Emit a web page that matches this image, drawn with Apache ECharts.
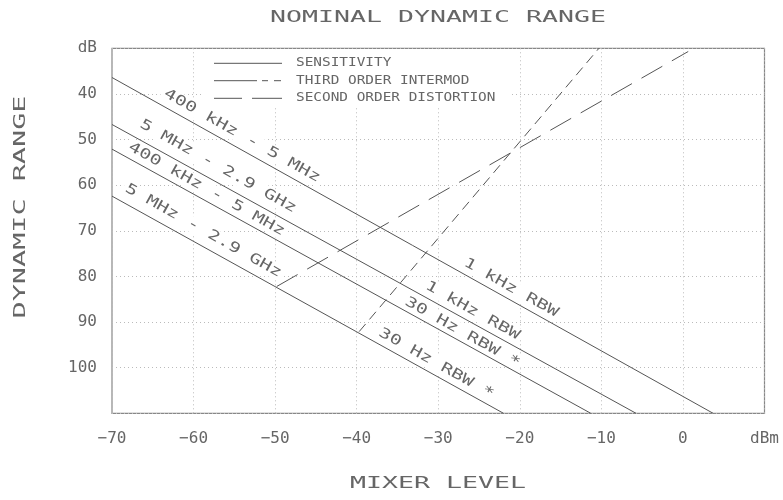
<!DOCTYPE html>
<html><head><meta charset="utf-8">
<script src="https://cdn.jsdelivr.net/npm/echarts@6/dist/echarts.min.js"></script>
<style>html,body{margin:0;padding:0;background:#fff}#c{width:783px;height:500px}</style>
</head><body><div id="c"></div>
<script>
// ---- data ----
const xTickValues = [-70, -60, -50, -40, -30, -20, -10, 0];
const xUnit = 'dBm';
const yTickValues = [40, 50, 60, 70, 80, 90, 100];
const yUnit = 'dB';
const xRange = [-70, 10];
const yRange = [30, 110];

// sensitivity lines (mixer level dBm, dynamic range dB)
const sens400k1k = [[-70, 36.4], [3.7, 110]];
const sens5M1k = [[-70, 46.7], [-5.75, 110]];
const sens400k30 = [[-70, 52.1], [-11.3, 110]];
const sens5M30 = [[-70, 62.4], [-22.0, 110]];
const thirdOrder = [[-39.7, 92.1], [-10.3, 30]];
const secondOrder = [[-49.8, 82.2], [0.65, 30.7]];

const labelTexts = ['400 kHz - 5 MHz', '1 kHz RBW', '5 MHz - 2.9 GHz', '1 kHz RBW',
                    '400 kHz - 5 MHz', '30 Hz RBW *', '5 MHz - 2.9 GHz', '30 Hz RBW *'];
const labelX = [-54.06, -21.08, -57.0, -25.8, -58.41, -27.03, -58.8, -30.24];
const labelY = [49.2, 82.5, 55.9, 87.5, 60.9, 92.3, 70.0, 99.1];

const legendNames = ['SENSITIVITY', 'THIRD ORDER INTERMOD', 'SECOND ORDER DISTORTION'];
const titleText = 'NOMINAL DYNAMIC RANGE';
const xTitle = 'MIXER LEVEL';
const yTitle = 'DYNAMIC RANGE';

// ---- chart ----
const MONO = 'DejaVu Sans Mono';
const INK = '#555';
const TXT = '#666';
const chart = echarts.init(document.getElementById('c'), null, {renderer: 'canvas'});

function lineSeries(name, data, type) {
  return {
    type: 'line', name: name, data: data, symbol: 'none', silent: true, z: 3,
    animation: false,
    lineStyle: {color: INK, width: 1, type: type || 'solid'}
  };
}

const option = {
  animation: false,
  backgroundColor: '#fff',
  grid: {left: 112, right: 18.5, top: 48.3, bottom: 86.7, show: true,
         borderColor: '#888', borderWidth: 1.2, backgroundColor: 'transparent'},
  xAxis: {
    type: 'value', min: xRange[0], max: xRange[1], interval: 10,
    axisLine: {show: false}, axisTick: {show: false},
    splitLine: {show: true, lineStyle: {color: '#bbb', width: 1, type: [1, 3]}},
    axisLabel: {
      margin: 18, color: TXT, fontFamily: MONO, fontSize: 16, showMaxLabel: true, showMinLabel: true,
      formatter: v => (v === xRange[1] ? xUnit : (xTickValues.indexOf(v) >= 0 ? String(v).replace('-', '\u2212') : ''))
    }
  },
  yAxis: {
    type: 'value', inverse: true, min: yRange[0], max: yRange[1], interval: 10,
    axisLine: {show: false}, axisTick: {show: false},
    splitLine: {show: true, lineStyle: {color: '#bbb', width: 1, type: [1, 3]}},
    axisLabel: {
      margin: 15, color: TXT, fontFamily: MONO, fontSize: 16, showMaxLabel: false, showMinLabel: true,
      formatter: v => (v === yRange[0] ? yUnit : (yTickValues.indexOf(v) >= 0 ? String(v) : ''))
    }
  },
  series: [
    lineSeries('SENSITIVITY', sens400k1k),
    lineSeries('SENSITIVITY', sens5M1k),
    lineSeries('SENSITIVITY', sens400k30),
    lineSeries('SENSITIVITY', sens5M30),
    lineSeries('THIRD ORDER INTERMOD', thirdOrder, [10, 6]),
    lineSeries('SECOND ORDER DISTORTION', secondOrder, [24, 11])
  ]
};
chart.setOption(option);

// ---- texts and legend (graphic) ----
function gText(text, x, y, size, scaleX, extra) {
  return Object.assign({
    type: 'text', x: x, y: y, scaleX: scaleX, scaleY: 1, z: 5, silent: true,
    style: {text: text, fontFamily: MONO, fontSize: size, fill: TXT,
            textAlign: 'center', textVerticalAlign: 'middle', verticalAlign: 'middle'}
  }, extra || {});
}

const els = [];
els.push(gText(titleText, 438, 18, 16, 1.66));
els.push(gText(xTitle, 438, 484, 16, 1.66));
els.push(gText(yTitle, 21, 207, 16, 1.78, {rotation: Math.PI / 2}));

// legend box (clears grid)
els.push({type: 'rect', z: 1, silent: true, shape: {x: 201, y: 49.5, width: 310, height: 58},
          style: {fill: '#fff'}});
const legY = [63.3, 80.7, 98.3];
const legSegs = [
  [[214, 282]],
  [[214, 257], [262, 268], [274, 281]],
  [[214, 242], [252, 282]]
];
legSegs.forEach((segs, i) => {
  segs.forEach(s => els.push({type: 'line', z: 5, silent: true,
    shape: {x1: s[0], y1: legY[i], x2: s[1], y2: legY[i]},
    style: {stroke: INK, lineWidth: 1}}));
  els.push({type: 'text', x: 296, y: legY[i], scaleX: 1.2, z: 5, silent: true,
    style: {text: legendNames[i], fontFamily: MONO, fontSize: 12, fill: TXT,
            textAlign: 'left', textVerticalAlign: 'middle', verticalAlign: 'middle'}});
});

// line labels positioned through the chart's own scales
const p0 = chart.convertToPixel({gridIndex: 0}, [-60, 50]);
const p1 = chart.convertToPixel({gridIndex: 0}, [-50, 60]);
const ang = Math.atan2(p1[1] - p0[1], p1[0] - p0[0]);
labelTexts.forEach((t, i) => {
  const p = chart.convertToPixel({gridIndex: 0}, [labelX[i], labelY[i]]);
  els.push({type: 'text', x: p[0], y: p[1], rotation: -ang, scaleX: 1.4, z: 1, silent: true,
    style: {text: t, fontFamily: MONO, fontSize: 14, fill: TXT,
            textAlign: 'center', textVerticalAlign: 'middle', verticalAlign: 'middle',
            backgroundColor: '#fff', padding: [1, 2]}});
});

chart.setOption({graphic: {elements: els}});
</script>
</body></html>
